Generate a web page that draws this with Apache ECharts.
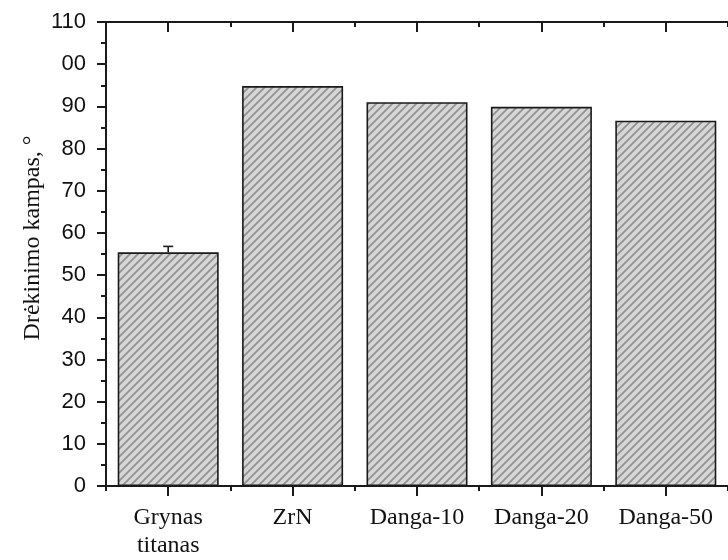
<!DOCTYPE html>
<html>
<head>
<meta charset="utf-8">
<script src="https://cdn.jsdelivr.net/npm/echarts@6/dist/echarts.min.js"></script>
<style>
  html, body { margin: 0; padding: 0; background: #fff; }
  #chart { width: 728px; height: 560px; }
</style>
</head>
<body>
<div id="chart"></div>
<script>
// Contact angle per sample
const categories = ['Grynas\ntitanas', 'ZrN', 'Danga-10', 'Danga-20', 'Danga-50'];
const angles = [55.4, 94.8, 91.0, 89.9, 86.6];
const angleErrors = [1.4, 0, 0, 0, 0];
const yTickLabels = ['0', '10', '20', '30', '40', '50', '60', '70', '80', '90', '00', '110'];
const yAxisTitle = 'Drėkinimo kampas, °';

// Diagonal hatch fill for the bars
function makeHatch() {
  const s = 8;
  const c = document.createElement('canvas');
  c.width = s; c.height = s;
  const g = c.getContext('2d');
  g.fillStyle = '#d6d6d6';
  g.fillRect(0, 0, s, s);
  g.strokeStyle = '#909090';
  g.lineWidth = 1.7;
  g.beginPath();
  g.moveTo(0, s); g.lineTo(s, 0);
  g.moveTo(-1, 1); g.lineTo(1, -1);
  g.moveTo(s - 1, s + 1); g.lineTo(s + 1, s - 1);
  g.stroke();
  return c;
}

const chart = echarts.init(document.getElementById('chart'), null, { renderer: 'canvas' });
const axisColor = '#1a1a1a';
const serif = '"Liberation Serif", "DejaVu Serif", serif';
const sans = '"Liberation Sans", Arial, sans-serif';
const tickLine = { color: axisColor, width: 2 };

// Category axes carry the long ticks at the bar centres
const catAxis = (position, extra) => Object.assign({
  type: 'category',
  data: categories,
  position: position,
  axisLine: { show: true, lineStyle: { color: axisColor, width: 2 } },
  axisTick: { show: true, alignWithLabel: true, inside: position === 'top', length: 10, lineStyle: tickLine },
  axisLabel: { show: false },
  splitLine: { show: false }
}, extra);

// Value axes spanning the same range carry the short ticks between bars
const boundaryAxis = (position) => ({
  type: 'value',
  position: position,
  min: 0, max: categories.length, interval: 1,
  axisLine: { show: false },
  axisTick: { show: true, inside: position === 'top', length: 5, lineStyle: tickLine },
  axisLabel: { show: false },
  splitLine: { show: false }
});

chart.setOption({
  animation: false,
  backgroundColor: '#ffffff',
  grid: { left: 106, top: 22, right: -8, bottom: 74, containLabel: false },
  xAxis: [
    catAxis('bottom', {
      axisLabel: {
        show: true, color: '#111', fontFamily: serif, fontSize: 24, lineHeight: 28,
        margin: 18, interval: 0
      }
    }),
    boundaryAxis('bottom'),
    catAxis('top'),
    boundaryAxis('top')
  ],
  yAxis: {
    type: 'value',
    min: 0, max: 110, interval: 10,
    name: yAxisTitle,
    nameLocation: 'middle',
    nameGap: 61,
    nameMoveOverlap: false,
    nameTextStyle: { color: '#111', fontFamily: serif, fontSize: 24, padding: [0, 0, 0, 32] },
    axisLine: { show: true, lineStyle: { color: axisColor, width: 2 } },
    axisTick: { show: true, length: 9, lineStyle: tickLine },
    minorTick: { show: true, splitNumber: 2, length: 5, lineStyle: tickLine },
    splitLine: { show: false },
    minorSplitLine: { show: false },
    axisLabel: {
      color: '#111', fontFamily: sans, fontSize: 22, margin: 20,
      formatter: v => yTickLabels[Math.round(v / 10)]
    }
  },
  series: [
    {
      type: 'bar',
      xAxisIndex: 0,
      data: angles,
      barWidth: 101,
      itemStyle: {
        color: { image: makeHatch(), repeat: 'repeat' },
        borderColor: '#1a1a1a',
        borderWidth: 1.6
      }
    },
    {
      type: 'custom',
      xAxisIndex: 0,
      z: 5,
      data: angles.map((v, i) => [i, v, angleErrors[i]]),
      renderItem: function (params, api) {
        const err = api.value(2);
        if (!err) return null;
        const x = api.value(0), v = api.value(1);
        const top = api.coord([x, v + err]);
        const base = api.coord([x, v]);
        const half = 5;
        return {
          type: 'group',
          children: [
            { type: 'line', shape: { x1: top[0], y1: top[1], x2: base[0], y2: base[1] },
              style: { stroke: '#1a1a1a', lineWidth: 1.6 } },
            { type: 'line', shape: { x1: top[0] - half, y1: top[1], x2: top[0] + half, y2: top[1] },
              style: { stroke: '#1a1a1a', lineWidth: 1.6 } }
          ]
        };
      }
    }
  ]
});
</script>
</body>
</html>
